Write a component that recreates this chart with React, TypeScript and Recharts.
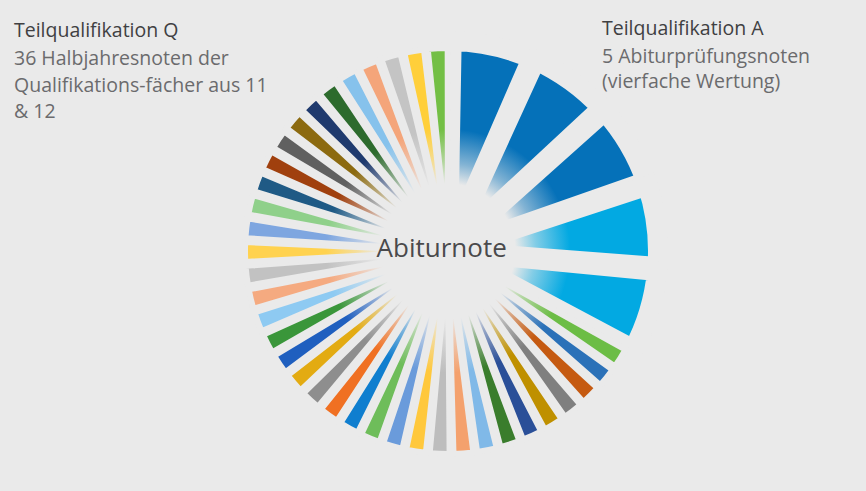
import { PieChart, Pie, Cell } from "recharts";

const BG = "#eaeaea";

// Teilqualifikation A: 5 exam grades, each weighted four times
const examNames = ["A1", "A2", "A3", "A4", "A5"];
const examWeights = [4, 4, 4, 4, 4];
const examColors = ["#0571b9", "#0571b9", "#0571b9", "#02a9e2", "#02a9e2"];

// Teilqualifikation Q: 36 half-year grades, single weight
const termWeights = Array(36).fill(1);
const termColors = [
  "#6cbd45", "#2b71b8", "#c55a11", "#7f7f7f", "#bf9000", "#2a4f98",
  "#3a7d2c", "#80b9e8", "#f4a16d", "#bdbdbd", "#ffc83c", "#6a9bdb",
  "#6ebd5a", "#0f7ecf", "#f07022", "#8e8e8e", "#e3ab12", "#1f5fbf",
  "#3a963a", "#8ecaf2", "#f5aa80", "#c2c2c2", "#ffd24f", "#7ea6e0",
  "#8fd08a", "#1f5a85", "#a0400e", "#606060", "#8c6a10", "#1f3a6e",
  "#2d6b2d", "#86c2ec", "#f4a57a", "#c4c4c4", "#ffcf3a", "#73bf45",
];

const slices = [
  ...examWeights.map((value, i) => ({ name: examNames[i], value, color: examColors[i], exam: true })),
  ...termWeights.map((value, i) => ({ name: `Q${i + 1}`, value, color: termColors[i], exam: false })),
];

const CX = 448;
const CY = 251;
const PAD = 1.09;

export default function App() {
  return (
    <div
      style={{
        position: "fixed",
        left: 0,
        top: 0,
        width: 866,
        height: 491,
        background: BG,
        overflow: "hidden",
      }}
    >
      <div style={{ position: "absolute", left: 0, top: 0 }}>
        <PieChart width={866} height={491} margin={{ top: 0, right: 0, bottom: 0, left: 0 }}>
          <Pie
            data={slices}
            dataKey="value"
            cx={CX}
            cy={CY}
            innerRadius={0}
            outerRadius={210}
            startAngle={89}
            endAngle={-271}
            paddingAngle={PAD}
            isAnimationActive={false}
            label={false}
            labelLine={false}
          >
            {slices.map((s) => (
              <Cell
                key={s.name}
                fill={s.exam ? s.color : "transparent"}
                stroke={s.exam ? BG : "none"}
                strokeWidth={s.exam ? 20 : 0}
              />
            ))}
          </Pie>
          <Pie
            data={slices}
            dataKey="value"
            cx={CX}
            cy={CY}
            innerRadius={0}
            outerRadius={203}
            startAngle={89}
            endAngle={-271}
            paddingAngle={PAD}
            isAnimationActive={false}
            label={false}
            labelLine={false}
          >
            {slices.map((s) => (
              <Cell
                key={s.name}
                fill={s.exam ? "transparent" : s.color}
                stroke={s.exam ? "none" : BG}
                strokeWidth={s.exam ? 0 : 6}
              />
            ))}
          </Pie>
        </PieChart>
      </div>

      {/* soft fade towards the middle */}
      <div
        style={{
          position: "absolute",
          left: CX - 122,
          top: CY - 122,
          width: 244,
          height: 244,
          borderRadius: "50%",
          background: `radial-gradient(circle closest-side, ${BG} 0%, ${BG} 55%, rgba(234,234,234,0.55) 72%, rgba(234,234,234,0) 100%)`,
          pointerEvents: "none",
        }}
      />

      <svg
        width={866}
        height={491}
        style={{ position: "absolute", left: 0, top: 0, pointerEvents: "none" }}
        fontFamily="'Open Sans', sans-serif"
      >
        <text x={441.7} y={257} textAnchor="middle" fontSize={26} fill="#4a4a4c">
          Abiturnote
        </text>

        <text x={14} y={37} fontSize={19.5} fill="#404042">Teilqualifikation Q</text>
        <text x={14} y={65} fontSize={19.5} fill="#6b6b6d">36 Halbjahresnoten der</text>
        <text x={14} y={92} fontSize={19.5} fill="#6b6b6d">Qualifikations-fächer aus 11</text>
        <text x={14} y={118} fontSize={19.5} fill="#6b6b6d">&amp; 12</text>

        <text x={602} y={35} fontSize={19.5} fill="#404042">Teilqualifikation A</text>
        <text x={602} y={63} fontSize={19.5} fill="#6b6b6d">5 Abiturprüfungsnoten</text>
        <text x={602} y={88} fontSize={19.5} fill="#6b6b6d">(vierfache Wertung)</text>
      </svg>
    </div>
  );
}
